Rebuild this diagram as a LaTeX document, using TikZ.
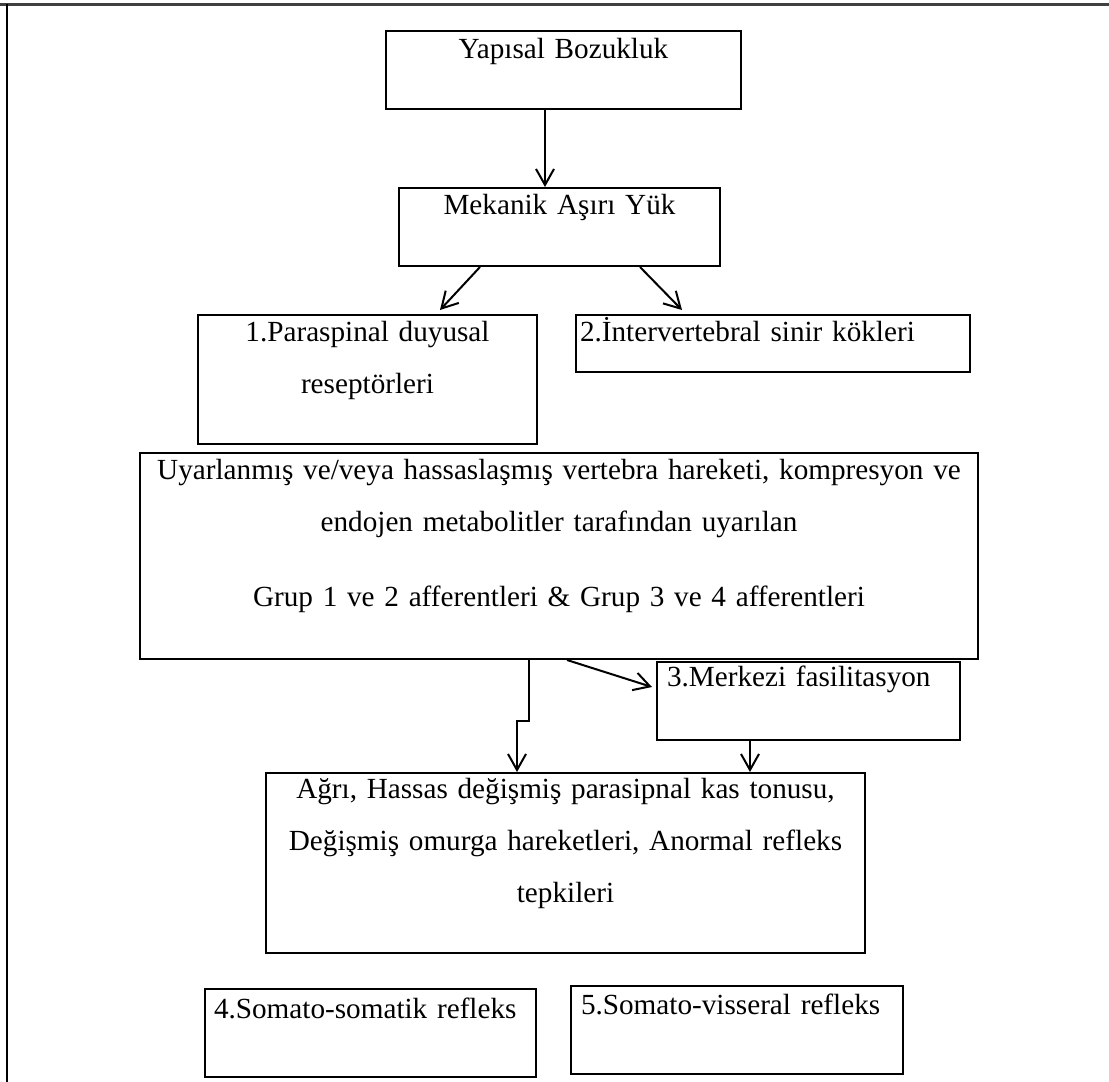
\documentclass[tikz,border=0pt]{standalone}
\usepackage{fontspec}
\setmainfont{Liberation Serif}
\usetikzlibrary{arrows.meta}
\begin{document}
\begin{tikzpicture}[x=0.5pt, y=-0.5pt,
  bx/.style={draw, line width=1pt, inner sep=0pt, anchor=north west, align=center,
    font=\fontsize{14.6}{26}\selectfont},
  arr/.style={line width=1pt, -{Straight Barb[length=8pt,width=9pt]}}]
\useasboundingbox (0,0) rectangle (1109,1082);
\draw[line width=1.3pt, black!75] (0,4.5) -- (1109,4.5);
\draw[line width=1pt] (6.7,4) -- (6.7,1082);

\node[bx, text width=177.5pt, text height=13.5pt, text depth=25.5pt] (yapisal) at (385,30) {Yapısal Bozukluk};
\node[bx, text width=160.5pt, text height=13pt, text depth=26pt] (mekanik) at (398,187) {Mekanik Aşırı Yük};
\node[bx, text width=169.5pt, text height=13pt, text depth=51.5pt] (parasp) at (197,314) {1.Paraspinal duyusal\\reseptörleri};
\node[bx, align=left, inner xsep=2pt, text width=193pt, text height=13pt, text depth=15.5pt] (interv) at (575,314) {2.İntervertebral sinir kökleri};
\node[bx, text width=419pt, text height=13pt, text depth=90pt] (uyar) at (139,452) {Uyarlanmış ve/veya hassaslaşmış vertebra hareketi, kompresyon ve\\endojen metabolitler tarafından uyarılan\\[11.5pt]Grup 1 ve 2 afferentleri \& Grup 3 ve 4 afferentleri};
\node[bx, align=left, inner xsep=5pt, text width=141.5pt, text height=12pt, text depth=27pt] (merkezi) at (656,661) {3.Merkezi fasilitasyon};
\node[bx, text width=299.5pt, text height=12.5pt, text depth=77.5pt] (agri) at (265,772) {Ağrı, Hassas değişmiş parasipnal kas tonusu,\\Değişmiş omurga hareketleri, Anormal refleks\\tepkileri};
\node[bx, align=left, inner xsep=4.5pt, text width=156.5pt, text height=14.5pt, text depth=29.5pt] (somsom) at (204,988) {4.Somato-somatik refleks};
\node[bx, align=left, inner xsep=5pt, text width=156pt, text height=14pt, text depth=30pt] (somvis) at (570,985) {5.Somato-visseral refleks};

\draw[arr] (yapisal.south west) ++(160,0) coordinate (ym) -- (ym |- mekanik.north);
\draw[arr] ([xshift=41pt]mekanik.south west) -- ([xshift=121.5pt,yshift=2pt]parasp.north west);
\draw[arr] ([xshift=121pt]mekanik.south west) -- ([xshift=53.5pt,yshift=2pt]interv.north west);
\draw[arr] ([xshift=-15pt]uyar.south) -- ++(0,61) -| ([xshift=126pt]agri.north west);
\draw[arr] ([xshift=4pt]uyar.south) -- ([xshift=-2pt,yshift=-13pt]merkezi.north west);
\draw[arr] (merkezi.south west) ++(94,0) coordinate (ma) -- (ma |- agri.north);
\end{tikzpicture}
\end{document}
